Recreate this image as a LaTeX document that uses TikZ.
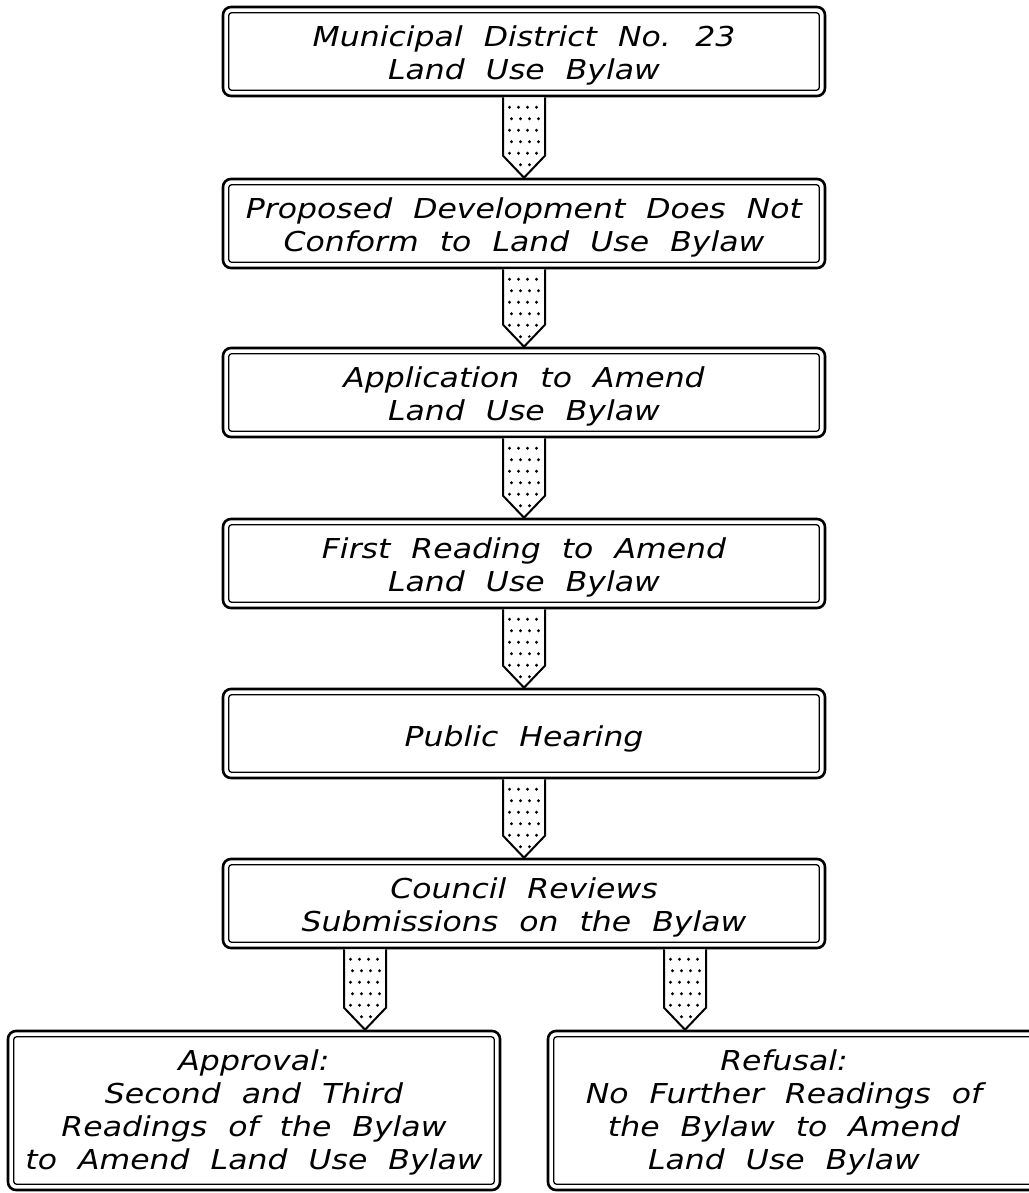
\documentclass[tikz,border=0pt]{standalone}
\usepackage{fontspec}
\newfontfamily\boxfont{DejaVu Sans}[FakeStretch=1.15,WordSpace=2.1]
\usetikzlibrary{calc}
\newcommand\btext[2][-5pt]{\raisebox{#1}[\height][\depth]{\begin{tabular}{@{}c@{}}#2\end{tabular}}}
\newcommand\flowarrow[3]{%
  \coordinate (as) at (#1.south -| #3,0);
  \coordinate (at) at (#2.north -| #3,0);
  \path[arrfill] ($(as)+(-21,0)$) -- ($(at)+(-21,-22)$) -- (at) -- ($(at)+(21,-22)$) -- ($(as)+(21,0)$) -- cycle;
  \begin{scope}
    \clip ($(as)+(-19,0)$) -- ($(at)+(-19,-22)$) -- ($(at)+(0,-4)$) -- ($(at)+(19,-22)$) -- ($(as)+(19,0)$) -- cycle;
    \foreach \j in {0,...,5}{
      \foreach \i in {-13.5,-4.5,4.5,13.5}{
        \fill ($(as)+({\i+mod(\j,2)*2-1},{10+\j*11.5})$) circle (1.6pt);
      }}
  \end{scope}
  \path[arrline] ($(as)+(-21,0)$) -- ($(at)+(-21,-22)$) -- (at) -- ($(at)+(21,-22)$) -- ($(as)+(21,0)$);
}
\begin{document}
\begin{tikzpicture}[x=1pt,y=-1pt,
  box/.style={draw, line width=2.6pt, rounded corners=8pt, inner sep=0pt, align=center,
    font=\boxfont\itshape\fontsize{27.4}{33}\selectfont},
  mainbox/.style={box, minimum width=602pt, minimum height=89pt},
  lowbox/.style={box, minimum width=492pt, minimum height=159pt},
  inbox/.style={line width=1.3pt, rounded corners=3pt},
  arrfill/.style={fill=white},
  arrline/.style={draw, line width=2pt, line join=miter}]
\useasboundingbox (0,0) rectangle (1028,1193);

\node[mainbox] (b1) at (524,51.5) {\btext{Municipal District No. 23\\Land Use Bylaw}};
\node[mainbox] (b2) at (524,223.5) {\btext{Proposed Development Does Not\\Conform to Land Use Bylaw}};
\node[mainbox] (b3) at (524,392.5) {\btext{Application to Amend\\Land Use Bylaw}};
\node[mainbox] (b4) at (524,563.5) {\btext{First Reading to Amend\\Land Use Bylaw}};
\node[mainbox] (b5) at (524,733.5) {\btext[-6pt]{Public Hearing}};
\node[mainbox] (b6) at (524,903.5) {\btext{Council Reviews\\Submissions on the Bylaw}};
\node[lowbox] (b7) at (254,1110.5) {\btext[-2.5pt]{Approval:\\Second and Third\\Readings of the Bylaw\\to Amend Land Use Bylaw}};
\node[lowbox] (b8) at (794,1110.5) {\hspace*{-20pt}\btext[-2.5pt]{Refusal:\\No Further Readings of\\the Bylaw to Amend\\Land Use Bylaw}};

\foreach \n in {b1,b2,b3,b4,b5,b6,b7,b8}
  \draw[inbox] ([shift={(7,7)}]\n.north west) rectangle ([shift={(-7,-7)}]\n.south east);

\flowarrow{b1}{b2}{524}
\flowarrow{b2}{b3}{524}
\flowarrow{b3}{b4}{524}
\flowarrow{b4}{b5}{524}
\flowarrow{b5}{b6}{524}
\flowarrow{b6}{b7}{365}
\flowarrow{b6}{b8}{685}
\end{tikzpicture}
\end{document}
